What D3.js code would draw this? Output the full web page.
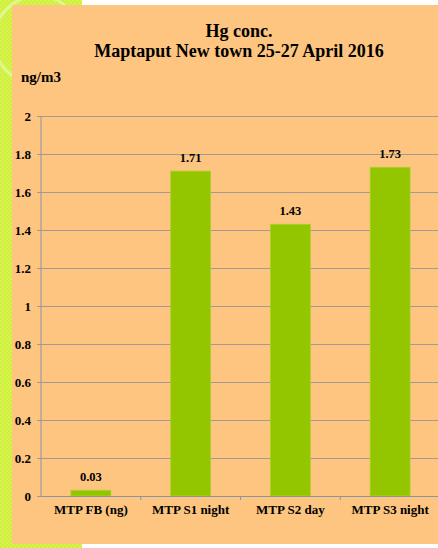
<!DOCTYPE html>
<html>
<head>
<meta charset="utf-8">
<script src="https://cdn.jsdelivr.net/npm/d3@7"></script>
<style>
  body { margin: 0; background: #ffffff; }
  svg { display: block; }
</style>
</head>
<body>
<div id="chart"></div>
<script>
const width = 438;
const height = 548;
const margin = {top: 116, right: -2, bottom: 52, left: 41};

const categories = ["MTP FB (ng)", "MTP S1 night", "MTP S2 day", "MTP S3 night"];
const values = [0.03, 1.71, 1.43, 1.73];
const yTicks = [0, 0.2, 0.4, 0.6, 0.8, 1, 1.2, 1.4, 1.6, 1.8, 2];
const titleLines = ["Hg conc.", "Maptaput New town 25-27 April 2016"];
const unitLabel = "ng/m3";

const panelCol = "#fdc57f";
const barCol = "#94c600";
const gridCol = "#a39a92";
const axisCol = "#8a94a4";
const font = "'Liberation Serif', 'Times New Roman', serif";

const svg = d3.select("#chart").append("svg")
  .attr("width", width)
  .attr("height", height);

// decorative green strip with checker pattern
const defs = svg.append("defs");
const pat = defs.append("pattern")
  .attr("id", "chk")
  .attr("width", 4).attr("height", 4)
  .attr("patternUnits", "userSpaceOnUse");
pat.append("rect").attr("width", 4).attr("height", 4).attr("fill", "#cdef3e");
pat.append("rect").attr("width", 2).attr("height", 2).attr("fill", "#d8f24e");
pat.append("rect").attr("x", 2).attr("y", 2).attr("width", 2).attr("height", 2).attr("fill", "#d8f24e");

svg.append("rect")
  .attr("x", 0).attr("y", 0)
  .attr("width", 82).attr("height", height)
  .attr("fill", "url(#chk)");
svg.append("circle")
  .attr("cx", 38).attr("cy", 40).attr("r", 44)
  .attr("fill", "none")
  .attr("stroke", "#e4f8a0")
  .attr("stroke-width", 3)
  .attr("opacity", 0.8);

// orange panel
svg.append("rect")
  .attr("x", 12).attr("y", 5)
  .attr("width", width - 12).attr("height", 539)
  .attr("fill", panelCol);

const x = d3.scaleBand()
  .domain(categories)
  .range([margin.left, width - margin.right])
  .padding(0);

const y = d3.scaleLinear()
  .domain([0, 2])
  .range([height - margin.bottom, margin.top]);

// gridlines + y labels
const yAxis = g => g
  .attr("transform", `translate(${margin.left},0)`)
  .call(d3.axisLeft(y)
    .tickValues(yTicks)
    .tickSize(4)
    .tickFormat(d => d3.format("~g")(d)))
  .call(g => g.select(".domain").remove())
  .call(g => g.selectAll(".tick line")
    .attr("stroke", gridCol)
    .attr("x1", -4)
    .attr("x2", width - margin.left))
  .call(g => g.selectAll("text")
    .attr("x", -10)
    .attr("fill", "#000")
    .style("font-family", font)
    .style("font-size", "13px")
    .style("font-weight", "bold"));

svg.append("g").call(yAxis);

// bars
const bw = x.bandwidth() * 0.4;
svg.append("g")
  .selectAll("rect")
  .data(categories)
  .join("rect")
  .attr("x", d => x(d) + (x.bandwidth() - bw) / 2)
  .attr("y", (d, i) => y(values[i]))
  .attr("width", bw)
  .attr("height", (d, i) => y(0) - y(values[i]))
  .attr("fill", barCol)
  .attr("stroke", "#a9d226")
  .attr("stroke-width", 0.8);

// value labels
svg.append("g")
  .selectAll("text")
  .data(categories)
  .join("text")
  .attr("x", d => x(d) + x.bandwidth() / 2)
  .attr("y", (d, i) => y(values[i]) - 9)
  .attr("text-anchor", "middle")
  .style("font-family", font)
  .style("font-size", "12.5px")
  .style("font-weight", "bold")
  .text((d, i) => d3.format(".2f")(values[i]));

// axes lines
svg.append("line")
  .attr("x1", margin.left).attr("x2", margin.left)
  .attr("y1", y(2)).attr("y2", y(0))
  .attr("stroke", axisCol);

const xAxis = g => g
  .attr("transform", `translate(0,${y(0)})`)
  .call(d3.axisBottom(x).tickSize(0).tickPadding(9))
  .call(g => g.select(".domain").attr("stroke", axisCol))
  .call(g => g.selectAll("text")
    .attr("fill", "#000")
    .style("font-family", font)
    .style("font-size", "13px")
    .style("font-weight", "bold"));
svg.append("g").call(xAxis);

// category boundary ticks
svg.append("g")
  .selectAll("line")
  .data(categories.slice(1))
  .join("line")
  .attr("x1", d => x(d)).attr("x2", d => x(d))
  .attr("y1", y(0)).attr("y2", y(0) + 4)
  .attr("stroke", axisCol);

// title
svg.append("g")
  .selectAll("text")
  .data(titleLines)
  .join("text")
  .attr("x", 239)
  .attr("y", (d, i) => 37 + i * 20)
  .attr("text-anchor", "middle")
  .style("font-family", font)
  .style("font-size", "18px")
  .style("font-weight", "bold")
  .text(d => d);

svg.append("text")
  .attr("x", 21)
  .attr("y", 82)
  .style("font-family", font)
  .style("font-size", "15px")
  .style("font-weight", "bold")
  .text(unitLabel);
</script>
</body>
</html>
